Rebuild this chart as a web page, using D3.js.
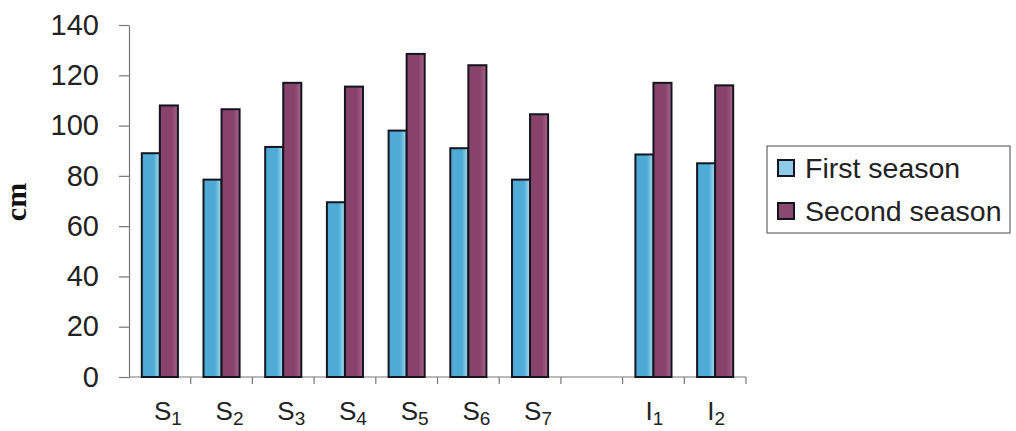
<!DOCTYPE html>
<html>
<head>
<meta charset="utf-8">
<script src="https://cdn.jsdelivr.net/npm/d3@7"></script>
<style>
  html, body { margin: 0; padding: 0; background: #fff; }
  svg { display: block; }
</style>
</head>
<body>
<svg id="chart" width="1016" height="431"></svg>
<script>
const categories = ["S1","S2","S3","S4","S5","S6","S7","gap","I1","I2"];
const labelBase  = ["S","S","S","S","S","S","S","","I","I"];
const labelSub   = ["1","2","3","4","5","6","7","","1","2"];
const firstSeason  = [89, 78.5, 91.5, 69.5, 98, 91, 78.5, null, 88.5, 85];
const secondSeason = [108, 106.5, 117, 115.5, 128.5, 124, 104.5, null, 117, 116];
const seriesNames = ["First season", "Second season"];
const yTicks = [0, 20, 40, 60, 80, 100, 120, 140];

const svg = d3.select("#chart");
const defs = svg.append("defs");
function grad(id, c1, c2) {
  const g = defs.append("linearGradient").attr("id", id).attr("x1", "0").attr("x2", "1").attr("y1", "0").attr("y2", "0");
  g.append("stop").attr("offset", "0%").attr("stop-color", c1);
  g.append("stop").attr("offset", "65%").attr("stop-color", c1);
  g.append("stop").attr("offset", "100%").attr("stop-color", c2);
}
grad("gBlue", "#4fabd6", "#a9dcef");
grad("gPurple", "#874369", "#a9658b");
const fills = ["url(#gBlue)", "url(#gPurple)"];
const swatchFills = ["#8fcbe8", "#8a4a70"];

const x = d3.scaleBand().domain(categories).range([129, 746]).paddingInner(0.415).paddingOuter(0.2075);
const x1 = d3.scaleBand().domain([0, 1]).range([0, x.bandwidth()]);
const y = d3.scaleLinear().domain([0, 140]).range([377, 25]);

const font = "'Liberation Sans', Arial, sans-serif";

// Y axis
const yAxis = d3.axisLeft(y).tickValues(yTicks).tickSize(10).tickSizeOuter(0).tickPadding(20);
const gy = svg.append("g").attr("transform", "translate(129,0)").call(yAxis);
gy.selectAll("path, line").attr("stroke", "#777").attr("stroke-width", 1.2);
gy.selectAll("text").attr("font-family", font).attr("font-size", 29).attr("fill", "#222");

// X axis line and boundary ticks
const step = x.step();
const boundaries = categories.map(c => x(c) - (step - x.bandwidth()) / 2);
boundaries.push(boundaries[boundaries.length - 1] + step);
svg.append("line").attr("x1", 129).attr("x2", boundaries[boundaries.length - 1])
  .attr("y1", y(0)).attr("y2", y(0)).attr("stroke", "#777").attr("stroke-width", 1.2);
svg.selectAll(".xt").data(boundaries.slice(1)).enter().append("line")
  .attr("x1", d => d).attr("x2", d => d).attr("y1", y(0)).attr("y2", y(0) + 7)
  .attr("stroke", "#777").attr("stroke-width", 1.2);

// Bars
const series = [firstSeason, secondSeason];
series.forEach((vals, si) => {
  svg.append("g").selectAll("rect").data(categories.map((c, i) => ({c, v: vals[i]})).filter(d => d.v !== null))
    .enter().append("rect")
    .attr("x", d => x(d.c) + x1(si))
    .attr("width", x1.bandwidth())
    .attr("y", d => y(d.v))
    .attr("height", d => y(0) - y(d.v))
    .attr("fill", fills[si])
    .attr("stroke", "#151520").attr("stroke-width", 2);
});

// X labels
const xl = svg.append("g");
categories.forEach((c, i) => {
  if (!labelBase[i]) return;
  const t = xl.append("text")
    .attr("x", x(c) + x.bandwidth() / 2 + (labelBase[i] === "S" ? 8 : 1))
    .attr("y", 420).attr("text-anchor", "middle")
    .attr("font-family", font).attr("font-size", 26).attr("fill", "#222");
  t.append("tspan").text(labelBase[i]);
  t.append("tspan").attr("font-size", 19).attr("dy", 5).text(labelSub[i]);
});

// Y title
svg.append("text").attr("transform", "translate(26,202) rotate(-90)")
  .attr("text-anchor", "middle")
  .attr("font-family", "'Liberation Serif', 'Times New Roman', serif")
  .attr("font-weight", "bold").attr("font-size", 30).attr("fill", "#111").text("cm");

// Legend
const lg = svg.append("g");
lg.append("rect").attr("x", 767).attr("y", 146).attr("width", 243).attr("height", 87)
  .attr("fill", "#fff").attr("stroke", "#666").attr("stroke-width", 1.2);
seriesNames.forEach((n, i) => {
  const yy = 160 + i * 43;
  lg.append("rect").attr("x", 778).attr("y", yy).attr("width", 16).attr("height", 16)
    .attr("fill", swatchFills[i]).attr("stroke", "#151520").attr("stroke-width", 2);
  lg.append("text").attr("x", 805).attr("y", yy + 18)
    .attr("font-family", font).attr("font-size", 28.5).attr("fill", "#222").text(n);
});
</script>
</body>
</html>
